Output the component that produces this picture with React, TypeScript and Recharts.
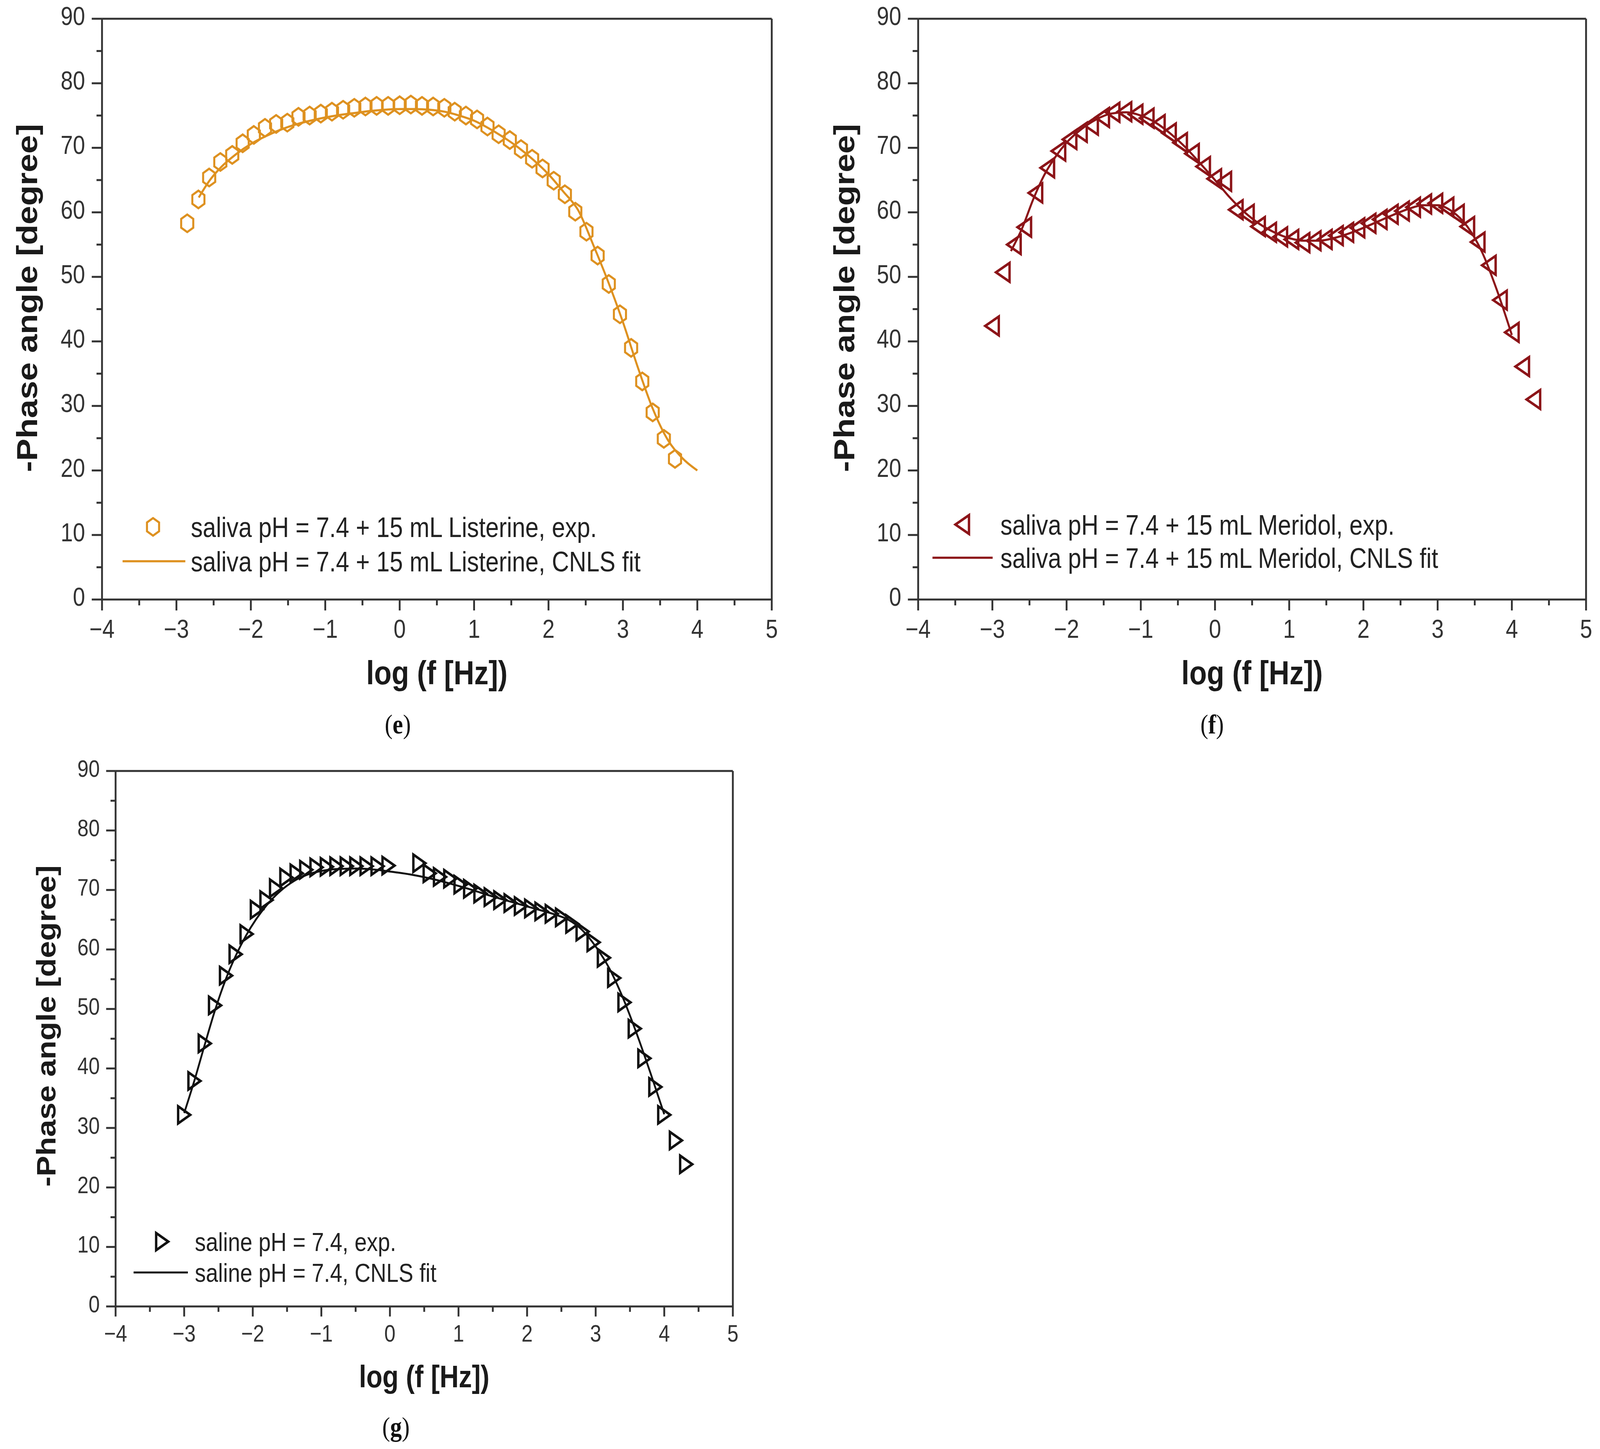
import React from 'react';
import { ComposedChart, Line, Scatter, XAxis, YAxis, ReferenceLine, Legend, Label } from 'recharts';

const SANS = '"Liberation Sans", Arial, Helvetica, sans-serif';
const SERIF = '"Liberation Serif", "Times New Roman", serif';
const SY = 1.1;
const AXIS = '#333333';
const PAGE_W = 4360;
const PAGE_H = 3710;

// ---------- shared axes ----------
const xTicks = [-4, -3.5, -3, -2.5, -2, -1.5, -1, -0.5, 0, 0.5, 1, 1.5, 2, 2.5, 3, 3.5, 4, 4.5, 5];
const yTicks = [0, 5, 10, 15, 20, 25, 30, 35, 40, 45, 50, 55, 60, 65, 70, 75, 80, 85, 90];
const xDomain = [-4, 5];
const yDomain = [0, 90];
const xTitle = 'log (f [Hz])';
const yTitle = '-Phase angle [degree]';

// ---------- panel (e): Listerine ----------
const eExpX = [-2.855, -2.705, -2.56, -2.41, -2.25, -2.11, -1.96, -1.81, -1.66, -1.51, -1.36, -1.21, -1.06, -0.91, -0.76, -0.61, -0.46, -0.31, -0.155, 0.0, 0.15, 0.30, 0.45, 0.60, 0.74, 0.89, 1.04, 1.18, 1.33, 1.48, 1.63, 1.78, 1.92, 2.07, 2.22, 2.36, 2.51, 2.66, 2.81, 2.96, 3.11, 3.26, 3.40, 3.55, 3.70];
const eExpY = [58.3, 62.0, 65.4, 67.8, 68.9, 70.7, 72.0, 73.1, 73.7, 73.9, 74.8, 75.0, 75.3, 75.6, 75.9, 76.2, 76.4, 76.5, 76.5, 76.6, 76.7, 76.5, 76.4, 76.2, 75.6, 75.0, 74.4, 73.3, 72.1, 71.2, 69.8, 68.3, 66.8, 64.9, 62.8, 60.1, 57.0, 53.3, 48.9, 44.2, 39.0, 33.8, 29.0, 24.9, 21.8];
const eFitX = [-2.70, -2.55, -2.4, -2.2, -2.0, -1.8, -1.6, -1.4, -1.2, -1.0, -0.8, -0.6, -0.4, -0.2, 0.0, 0.2, 0.4, 0.6, 0.8, 1.0, 1.2, 1.4, 1.6, 1.8, 2.0, 2.2, 2.4, 2.6, 2.8, 3.0, 3.2, 3.4, 3.6, 3.8, 4.0];
const eFitY = [62.3, 65.0, 67.0, 69.0, 70.6, 71.8, 72.8, 73.6, 74.2, 74.7, 75.1, 75.4, 75.7, 75.9, 76.0, 76.0, 75.9, 75.6, 75.0, 74.2, 73.0, 71.6, 70.0, 68.1, 65.9, 63.2, 60.3, 55.0, 49.3, 43.0, 36.0, 29.6, 24.8, 21.9, 20.0];
const eLegend = ['saliva pH = 7.4 + 15 mL Listerine, exp.', 'saliva pH = 7.4 + 15 mL Listerine, CNLS fit'];

// ---------- panel (f): Meridol ----------
const fExpX = [-3.005, -2.86, -2.71, -2.57, -2.42, -2.26, -2.11, -1.96, -1.82, -1.67, -1.52, -1.38, -1.22, -1.07, -0.92, -0.77, -0.62, -0.47, -0.31, -0.16, -0.01, 0.125, 0.28, 0.43, 0.58, 0.73, 0.88, 1.03, 1.18, 1.33, 1.48, 1.63, 1.77, 1.92, 2.07, 2.22, 2.37, 2.52, 2.67, 2.82, 2.97, 3.12, 3.26, 3.40, 3.54, 3.69, 3.84, 4.00, 4.14, 4.29];
const fExpY = [42.4, 50.7, 55.0, 57.7, 63.0, 66.9, 69.5, 71.3, 72.4, 73.5, 74.7, 75.5, 75.6, 75.2, 74.6, 73.6, 72.3, 70.8, 69.1, 67.1, 65.2, 64.8, 60.4, 59.7, 57.8, 56.9, 56.2, 55.8, 55.3, 55.6, 55.8, 56.4, 56.9, 57.6, 58.3, 58.9, 59.7, 60.2, 60.8, 61.3, 61.4, 60.8, 59.7, 57.8, 55.4, 51.8, 46.4, 41.4, 36.1, 31.0];
const fFitX = [-2.75, -2.6, -2.45, -2.3, -2.15, -2.0, -1.8, -1.6, -1.4, -1.2, -1.0, -0.8, -0.6, -0.4, -0.2, 0.0, 0.2, 0.4, 0.6, 0.8, 1.0, 1.2, 1.4, 1.6, 1.8, 2.0, 2.2, 2.4, 2.6, 2.8, 3.0, 3.2, 3.4, 3.6, 3.8, 4.0];
const fFitY = [54.0, 57.5, 62.0, 65.8, 68.6, 70.8, 72.9, 74.4, 75.3, 75.5, 75.0, 73.9, 72.2, 70.1, 67.6, 65.0, 62.3, 60.0, 58.2, 56.9, 56.0, 55.6, 55.6, 56.0, 56.7, 57.6, 58.6, 59.6, 60.5, 61.1, 61.1, 60.1, 57.8, 53.8, 47.9, 41.0];
const fLegend = ['saliva pH = 7.4 + 15 mL Meridol, exp.', 'saliva pH = 7.4 + 15 mL Meridol, CNLS fit'];

// ---------- panel (g): saline ----------
const gExpX = [-3.0, -2.85, -2.70, -2.55, -2.39, -2.25, -2.09, -1.94, -1.80, -1.66, -1.51, -1.36, -1.22, -1.07, -0.92, -0.78, -0.63, -0.49, -0.34, -0.18, -0.02, 0.43, 0.58, 0.73, 0.88, 1.03, 1.17, 1.32, 1.47, 1.61, 1.76, 1.91, 2.06, 2.21, 2.36, 2.51, 2.66, 2.81, 2.97, 3.12, 3.27, 3.42, 3.57, 3.71, 3.87, 4.00, 4.17, 4.32];
const gExpY = [32.2, 37.9, 44.2, 50.6, 55.6, 59.2, 62.6, 66.7, 68.3, 70.3, 72.1, 72.8, 73.4, 73.8, 73.9, 74.0, 74.0, 74.0, 74.0, 74.0, 74.1, 74.5, 72.8, 72.2, 71.9, 70.9, 70.2, 69.4, 68.8, 68.3, 67.8, 67.3, 66.9, 66.4, 66.0, 65.4, 64.3, 63.0, 61.2, 58.6, 55.2, 51.1, 46.7, 41.7, 36.9, 32.2, 27.9, 23.9];
const gFitX = [-3.0, -2.85, -2.7, -2.55, -2.4, -2.25, -2.1, -1.95, -1.8, -1.6, -1.4, -1.2, -1.0, -0.8, -0.5, -0.2, 0.0, 0.3, 0.6, 0.9, 1.2, 1.5, 1.8, 2.1, 2.4, 2.6, 2.8, 3.0, 3.2, 3.4, 3.6, 3.8, 4.0];
const gFitY = [32.5, 38.0, 44.0, 49.8, 54.8, 58.9, 62.3, 65.1, 67.4, 69.8, 71.5, 72.6, 73.2, 73.5, 73.6, 73.4, 73.1, 72.6, 71.9, 71.0, 70.0, 68.9, 67.9, 66.9, 65.9, 65.0, 63.3, 60.5, 56.8, 51.8, 45.8, 39.2, 32.3];
const gLegend = ['saline pH = 7.4, exp.', 'saline pH = 7.4, CNLS fit'];

const panelLetters = ['e', 'f', 'g'];

const zip = (xs: number[], ys: number[]) => xs.map((x, i) => ({ x, y: ys[i] }));
const fmt = (v: number) => (v < 0 ? '\u2212' + Math.abs(v) : String(v));

type MarkerKind = 'hex' | 'triL' | 'triR';

function markerPath(kind: MarkerKind, cx: number, cy: number, hw: number, hh: number) {
  if (kind === 'hex') {
    return `M${cx},${cy - hh} L${cx + hw},${cy - hh / 2} L${cx + hw},${cy + hh / 2} L${cx},${cy + hh} L${cx - hw},${cy + hh / 2} L${cx - hw},${cy - hh / 2} Z`;
  }
  if (kind === 'triL') {
    return `M${cx - hw},${cy} L${cx + hw},${cy - hh} L${cx + hw},${cy + hh} Z`;
  }
  return `M${cx + hw},${cy} L${cx - hw},${cy - hh} L${cx - hw},${cy + hh} Z`;
}

type Cfg = {
  left: number; top: number; W: number; H: number;
  l: number; t: number; r: number; b: number; s: number;
  color: string; marker: MarkerKind; hw: number; hh: number; msw: number; lw: number;
  exp: { x: number; y: number }[]; fit: { x: number; y: number }[]; legend: string[];
  xTickBase: number; yGap: number; tickFs: number;
  xTitleBase: number; titleFs: number; yTitleX: number; yTitleCY: number;
  legSymX: number; legLineX1: number; legLineX2: number; legTextX: number; legRow1: number; legRow2: number; legFs: number;
};

function Panel({ c }: { c: Cfg }) {
  const major = 28 * c.s;
  const minor = 15 * c.s;
  const sw = 5;

  const XTick = (p: any) => {
    const v = p.payload.value;
    const x = p.x;
    const isMajor = Number.isInteger(v);
    return (
      <g>
        <line x1={x} x2={x} y1={c.b} y2={c.b + (isMajor ? major : minor)} stroke={AXIS} strokeWidth={sw} />
        {isMajor && (
          <text transform={`translate(${x},${c.xTickBase}) scale(1,${SY})`} textAnchor="middle" fontSize={c.tickFs} fill="#333" fontFamily={SANS}>
            {fmt(v)}
          </text>
        )}
      </g>
    );
  };

  const YTick = (p: any) => {
    const v = p.payload.value;
    const y = p.y;
    const isMajor = v % 10 === 0;
    return (
      <g>
        <line x1={c.l} x2={c.l - (isMajor ? major : minor)} y1={y} y2={y} stroke={AXIS} strokeWidth={sw} />
        {isMajor && (
          <text transform={`translate(${c.l - c.yGap},${y + 16 * c.s}) scale(1,${SY})`} textAnchor="end" fontSize={c.tickFs} fill="#333" fontFamily={SANS}>
            {fmt(v)}
          </text>
        )}
      </g>
    );
  };

  const XTitle = () => (
    <text transform={`translate(${(c.l + c.r) / 2},${c.xTitleBase}) scale(1,${SY})`} textAnchor="middle" fontSize={c.titleFs} fontWeight="bold" fill="#1a1a1a" fontFamily={SANS}>
      {xTitle}
    </text>
  );

  const YTitle = () => (
    <text transform={`translate(${c.yTitleX},${c.yTitleCY}) scale(1,${SY}) rotate(-90)`} textAnchor="middle" fontSize={c.titleFs} fontWeight="bold" fill="#1a1a1a" fontFamily={SANS}>
      {yTitle}
    </text>
  );

  const shape = (p: any) => {
    if (p.cx == null || p.cy == null) return <g />;
    return <path d={markerPath(c.marker, p.cx, p.cy, c.hw, c.hh)} fill="none" stroke={c.color} strokeWidth={c.msw} strokeLinejoin="miter" />;
  };

  const legendContent = () => (
    <svg width={c.W} height={c.H} style={{ position: 'absolute', left: 0, top: 0, overflow: 'visible', pointerEvents: 'none' }}>
      <path d={markerPath(c.marker, c.legSymX, c.legRow1, c.hw, c.hh)} fill="none" stroke={c.color} strokeWidth={c.msw} />
      <line x1={c.legLineX1} x2={c.legLineX2} y1={c.legRow2} y2={c.legRow2} stroke={c.color} strokeWidth={c.lw} />
      <text transform={`translate(${c.legTextX},${c.legRow1 + 26 * c.s}) scale(1,${SY})`} fontSize={c.legFs} fill="#222" fontFamily={SANS}>
        {c.legend[0]}
      </text>
      <text transform={`translate(${c.legTextX},${c.legRow2 + 26 * c.s}) scale(1,${SY})`} fontSize={c.legFs} fill="#222" fontFamily={SANS}>
        {c.legend[1]}
      </text>
    </svg>
  );

  return (
    <div style={{ position: 'absolute', left: c.left, top: c.top, width: c.W, height: c.H }}>
      <ComposedChart width={c.W} height={c.H} margin={{ top: c.t, right: c.W - c.r, bottom: 0, left: 0 }}>
        <XAxis
          dataKey="x"
          type="number"
          domain={xDomain}
          ticks={xTicks}
          interval={0}
          allowDataOverflow
          height={c.H - c.b}
          tickLine={false}
          tickSize={0}
          tickMargin={0}
          tick={XTick}
          axisLine={{ stroke: AXIS, strokeWidth: sw }}
        >
          <Label content={<XTitle />} />
        </XAxis>
        <YAxis
          dataKey="y"
          type="number"
          domain={yDomain}
          ticks={yTicks}
          interval={0}
          allowDataOverflow
          width={c.l}
          tickLine={false}
          tickSize={0}
          tickMargin={0}
          tick={YTick}
          axisLine={{ stroke: AXIS, strokeWidth: sw }}
        >
          <Label content={<YTitle />} />
        </YAxis>
        <ReferenceLine y={90} stroke={AXIS} strokeWidth={sw} />
        <ReferenceLine x={5} stroke={AXIS} strokeWidth={sw} />
        <Scatter data={c.exp} dataKey="y" shape={shape} isAnimationActive={false} />
        <Line data={c.fit} dataKey="y" type="monotone" stroke={c.color} strokeWidth={c.lw} dot={false} activeDot={false} isAnimationActive={false} />
        <Legend layout="vertical" align="center" verticalAlign="middle" content={legendContent} wrapperStyle={{ left: 0, top: 0, width: c.W, height: c.H, pointerEvents: 'none' }} />
      </ComposedChart>
    </div>
  );
}

const cfgE: Cfg = {
  left: 0, top: 0, W: 2180, H: 1820, l: 278, t: 48, r: 2103, b: 1535, s: 1,
  color: '#DE9120', marker: 'hex', hw: 16.5, hh: 22.5, msw: 5.5, lw: 5.5,
  exp: zip(eExpX, eExpY), fit: zip(eFitX, eFitY), legend: eLegend,
  xTickBase: 1633, yGap: 46, tickFs: 60,
  xTitleBase: 1752, titleFs: 78, yTitleX: 101, yTitleCY: 763,
  legSymX: 417, legLineX1: 334, legLineX2: 505, legTextX: 520, legRow1: 1349, legRow2: 1437, legFs: 65,
};

const cfgF: Cfg = {
  left: 2180, top: 0, W: 2180, H: 1820, l: 322, t: 48, r: 2142, b: 1535, s: 1,
  color: '#8C1418', marker: 'triL', hw: 18.5, hh: 24, msw: 6.5, lw: 5.5,
  exp: zip(fExpX, fExpY), fit: zip(fFitX, fFitY), legend: fLegend,
  xTickBase: 1633, yGap: 46, tickFs: 60,
  xTitleBase: 1752, titleFs: 78, yTitleX: 148, yTitleCY: 763,
  legSymX: 442, legLineX1: 361, legLineX2: 525, legTextX: 546, legRow1: 1343, legRow2: 1428, legFs: 65,
};

const cfgG: Cfg = {
  left: 0, top: 1900, W: 2180, H: 1810, l: 315, t: 74, r: 1997, b: 1445, s: 0.92,
  color: '#111111', marker: 'triR', hw: 16.5, hh: 22, msw: 6.5, lw: 5,
  exp: zip(gExpX, gExpY), fit: zip(gFitX, gFitY), legend: gLegend,
  xTickBase: 1535, yGap: 43, tickFs: 55,
  xTitleBase: 1652, titleFs: 72, yTitleX: 151, yTitleCY: 727,
  legSymX: 442, legLineX1: 364, legLineX2: 512, legTextX: 531, legRow1: 1279, legRow2: 1358, legFs: 60,
};

const letterPos = [
  { x: 1084, y: 1878 },
  { x: 3303, y: 1878 },
  { x: 1079, y: 3677 },
];

// The browser viewport may be narrower than the requested 4360 px; map the
// 4360x3710 design onto whatever viewport is actually available.
function computeScale() {
  if (typeof window === 'undefined') return { sx: 1, sy: 1 };
  const w = window.innerWidth || document.documentElement.clientWidth || PAGE_W;
  const h = window.innerHeight || document.documentElement.clientHeight || PAGE_H;
  const sx = w > 0 ? Math.min(1, w / PAGE_W) : 1;
  const sy = h > 0 ? Math.min(1, h / PAGE_H) : 1;
  return { sx, sy };
}

export default function App() {
  const [k, setK] = React.useState(computeScale);
  React.useEffect(() => {
    const f = () => setK(computeScale());
    f();
    window.addEventListener('resize', f);
    return () => window.removeEventListener('resize', f);
  }, []);

  return (
    <div style={{ position: 'fixed', left: 0, top: 0, right: 0, bottom: 0, overflow: 'hidden', background: '#ffffff' }}>
      <div style={{ position: 'absolute', left: 0, top: 0, width: PAGE_W, height: PAGE_H, transform: `scale(${k.sx},${k.sy})`, transformOrigin: '0 0', background: '#ffffff' }}>
        <svg width={PAGE_W} height={PAGE_H} style={{ position: 'absolute', left: 0, top: 0 }}>
          {panelLetters.map((L, i) => (
            <text key={L} transform={`translate(${letterPos[i].x},${letterPos[i].y}) scale(1,${SY})`} textAnchor="middle" fontSize={64} fill="#111" fontFamily={SERIF}>
              (<tspan fontWeight="bold">{L}</tspan>)
            </text>
          ))}
        </svg>
        <Panel c={cfgE} />
        <Panel c={cfgF} />
        <Panel c={cfgG} />
      </div>
    </div>
  );
}
